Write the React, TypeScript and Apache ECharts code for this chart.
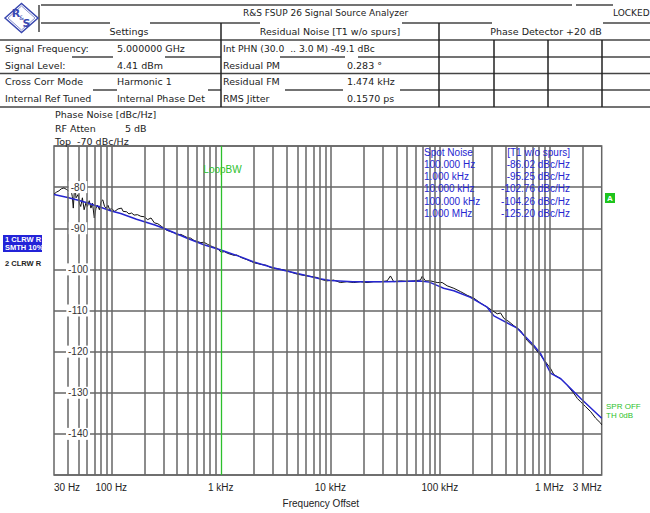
import React, { useEffect, useRef } from "react";
import * as echarts from "echarts";

// ---------- data ----------
const blueFreq = [30, 40, 50, 60, 70, 80, 100, 122, 170, 250, 300, 400, 500, 700, 1000, 1500, 2000, 3000, 4000, 6000, 8000, 10000, 16000, 33000, 50000, 66000, 80000, 100000, 108000, 134000, 190000, 270000, 311000, 508000, 721000, 830000, 1030000, 1270000, 1930000, 3000000];
const blueVal = [-81.8, -82.5, -83.2, -83.8, -84.4, -84.9, -85.8, -86.4, -87.8, -89.2, -90.0, -91.4, -92.5, -94.0, -95.3, -96.9, -98.2, -99.6, -100.4, -101.5, -102.3, -102.7, -103.0, -103.0, -102.9, -102.8, -103.1, -104.2, -104.6, -105.2, -106.8, -109.2, -111.3, -114.3, -118.5, -120.5, -125.3, -126.6, -131.4, -136.2];

const blackFreq = [30, 31.7, 33.3, 35.0, 37.0, 39.2, 41.1, 42.6, 44.1, 45.0, 46.4, 47.7, 49.8, 51.1, 52.6, 54.5, 56.5, 58.6, 60.6, 62.9, 65.2, 67.4, 70.0, 72.5, 75.1, 77.9, 80.8, 83.7, 86.8, 90.0, 93.2, 96.7, 100.2, 107.6, 115.4, 124, 128.4, 138.1, 144.8, 153.4, 161.5, 173.4, 186.2, 199.9, 214.7, 230.6, 247.6, 265.9, 285.6, 321.6, 337.5, 375, 400, 431.8, 496, 530, 571.3, 657.6, 700, 756, 840.4, 933.5, 1002, 1080, 1152, 1326, 1400, 1526, 1755, 2021, 2326, 2600, 2871, 3542, 4074, 5027, 6199, 7651, 8093, 9322, 10720, 12340, 14200, 16330, 18800, 21640, 24890, 28660, 32990, 35360, 37900, 43630, 50230, 57760, 66460, 68900, 73880, 82040, 94470, 104900, 116500, 134000, 154200, 177500, 204100, 235000, 270500, 300600, 333900, 357900, 383600, 426000, 473200, 545100, 627400, 721100, 830000, 922100, 1024000, 1098000, 1265000, 1457000, 1674000, 1799000, 1928000, 2142000, 2380000, 2644000, 2938000, 3000000];
const blackVal = [-81.7, -81.2, -80.9, -80.4, -80.2, -80.6, -81.0, -80.2, -82.3, -85.1, -79.4, -82.6, -81.8, -83.9, -84.7, -82.6, -85.5, -83.9, -84.7, -83.3, -85.1, -83.9, -87.5, -85.1, -84.4, -85.5, -83.5, -83.1, -84.7, -85.1, -84.4, -85.5, -85.2, -85.9, -85.3, -85.1, -85.9, -86.0, -86.5, -86.3, -86.8, -86.7, -87.1, -87.2, -87.9, -87.5, -88.7, -88.9, -89.5, -90.5, -90.7, -91.1, -91.6, -91.5, -92.3, -92.4, -93.0, -93.5, -93.4, -93.9, -94.5, -94.9, -95.8, -95.7, -96.1, -96.6, -96.5, -97.1, -97.7, -98.4, -98.8, -99.0, -99.6, -100.0, -100.4, -101.2, -101.6, -102.0, -102.4, -102.8, -102.6, -103.2, -103.0, -103.2, -103.0, -103.2, -103.0, -103.0, -102.8, -101.6, -103.0, -102.8, -102.9, -102.8, -102.6, -101.7, -102.8, -102.8, -103.2, -103.2, -104.0, -104.6, -105.4, -106.3, -107.0, -108.2, -109.2, -110.0, -110.8, -110.6, -111.9, -112.7, -113.7, -114.9, -117.3, -118.9, -120.9, -122.5, -124.1, -125.6, -126.6, -128.2, -130.2, -131.4, -132.2, -133.4, -134.6, -136.2, -137.4, -137.8];

const gridFreqs = [40, 50, 60, 70, 80, 90, 100, 200, 300, 400, 500, 600, 700, 800, 900, 1000, 2000, 3000, 4000, 5000, 6000, 7000, 8000, 9000, 10000, 20000, 30000, 40000, 50000, 60000, 70000, 80000, 90000, 100000, 200000, 300000, 400000, 500000, 600000, 700000, 800000, 900000, 1000000, 2000000];
const loopBwFreq = 1000;

const xTickValues = [30, 100, 1000, 10000, 100000, 1000000, 3000000];
const xTickLabels = ["30 Hz", "100 Hz", "1 kHz", "10 kHz", "100 kHz", "1 MHz", "3 MHz"];

const yMin = -150;
const yMax = -70;
const yStep = 10;

const settingsLabels = ["Signal Frequency:", "Signal Level:", "Cross Corr Mode", "Internal Ref Tuned"];
const settingsValues = ["5.000000 GHz", "4.41 dBm", "Harmonic 1", "Internal Phase Det"];
const residualLabels = ["Int PHN (30.0  .. 3.0 M) -49.1 dBc", "Residual PM", "Residual FM", "RMS Jitter"];
const residualValues = ["", "0.283 \u00b0", "1.474 kHz", "0.1570 ps"];

const spotFreqLabels = ["100.000 Hz", "1.000 kHz", "10.000 kHz", "100.000 kHz", "1.000 MHz"];
const spotValues = ["-86.02", "-95.25", "-102.76", "-104.26", "-125.20"];

// ---------- styles ----------
const HDR_FONT = "DejaVu Sans";
const PLOT_FONT = "Liberation Sans";
const LINE_C = "#444";
const GRID_C = "#666";
const BLUE = "#2626d0";
const GREEN = "#2cbf2c";

function txt(x: number, y: number, text: string, o: any = {}) {
  const align = o.align || "left";
  return {
    type: "text",
    x,
    y,
    z: 100,
    silent: true,
    style: {
      text,
      fill: o.fill || "#222",
      fontSize: o.size || 9.5,
      fontFamily: o.family || HDR_FONT,
      fontWeight: o.weight || "normal",
      align,
      textAlign: align,
      verticalAlign: "middle",
      textVerticalAlign: "middle",
    },
  };
}
function ln(x1: number, y1: number, x2: number, y2: number, c = LINE_C, w = 1.5) {
  return { type: "line", z: 100, silent: true, shape: { x1, y1, x2, y2 }, style: { stroke: c, lineWidth: w } };
}

export default function App() {
  const ref = useRef<HTMLDivElement>(null);
  useEffect(() => {
    if (!ref.current) return;
    const chart = echarts.init(ref.current, undefined, { renderer: "svg" });

    const blueData = blueFreq.map((f, i) => [f, blueVal[i]]);
    const blackData = blackFreq.map((f, i) => [f, blackVal[i]]);

    const g: any[] = [];
    // header lines
    g.push(ln(41, 5, 572, 5), ln(576, 5, 613, 5));
    g.push(ln(39, 5, 39, 32));
    [[41, 110], [150, 260], [402, 492], [603, 650]].forEach(([a, b]) => g.push(ln(a, 23, b, 23)));
    g.push(ln(0, 40, 650, 40), ln(0, 73.5, 650, 73.5), ln(0, 107, 650, 107));
    [[72, 113], [165, 221], [280, 345], [358, 650]].forEach(([a, b]) => g.push(ln(a, 57, b, 57)));
    [[93, 117], [208, 221], [285, 343], [400, 650]].forEach(([a, b]) => g.push(ln(a, 90, b, 90)));
    g.push(ln(221, 23, 221, 107, "#222"), ln(439, 23, 439, 107, "#222"));
    [494, 548, 602].forEach((x) => g.push(ln(x, 40, x, 107, "#222")));

    // logo
    g.push({
      type: "polygon", z: 100, silent: true,
      shape: { points: [[5, 18], [21.5, 3.5], [38, 18], [21.5, 32.5]] },
      style: { fill: "none", stroke: "#3a48b0", lineWidth: 1.5 },
    });
    g.push({
      type: "polygon", z: 100, silent: true,
      shape: { points: [[8, 18], [21.5, 6], [35, 18], [21.5, 30]] },
      style: { fill: "none", stroke: "#3a48b0", lineWidth: 0.6 },
    });
    g.push(txt(16, 13.5, "R", { fill: "#3a48b0", size: 11, family: "DejaVu Sans", weight: "bold", align: "center" }));
    g.push(txt(21.5, 17.5, "&", { fill: "#3a48b0", size: 6, align: "center" }));
    g.push(txt(26.5, 23, "S", { fill: "#3a48b0", size: 11, family: "DejaVu Sans", weight: "bold", align: "center" }));

    // header texts
    g.push(txt(243, 12.5, "R&S FSUP 26 Signal Source Analyzer", { size: 9 }));
    g.push(txt(613, 12.5, "LOCKED", { size: 9 }));
    g.push(txt(129, 31, "Settings", { align: "center" }));
    g.push(txt(330, 31, "Residual Noise [T1 w/o spurs]", { align: "center" }));
    g.push(txt(546, 31, "Phase Detector +20 dB", { align: "center" }));
    const rowY = [48.5, 65, 81.5, 98];
    settingsLabels.forEach((s, i) => g.push(txt(5, rowY[i], s)));
    settingsValues.forEach((s, i) => g.push(txt(117, rowY[i], s)));
    residualLabels.forEach((s, i) => g.push(txt(223, rowY[i], s, i === 0 ? { size: 9.2 } : {})));
    residualValues.forEach((s, i) => s && g.push(txt(347, rowY[i], s)));

    g.push(txt(55, 114.5, "Phase Noise [dBc/Hz]"));
    g.push(txt(55, 128, "RF Atten"));
    g.push(txt(125, 128, "5 dB"));
    g.push(txt(55, 141, "Top  -70 dBc/Hz"));

    // left trace legend
    g.push({ type: "rect", z: 100, silent: true, shape: { x: 3, y: 235, width: 39, height: 17 }, style: { fill: "#2323d8" } });
    g.push(txt(5, 239.7, "1 CLRW R", { fill: "#fff", size: 7.5, family: PLOT_FONT, weight: "bold" }));
    g.push(txt(5, 247.7, "SMTH 10%", { fill: "#fff", size: 7.5, family: PLOT_FONT, weight: "bold" }));
    g.push(txt(5, 263, "2 CLRW R", { fill: "#222", size: 7.5, family: PLOT_FONT, weight: "bold" }));

    // spot noise table
    const spY = [152, 164.3, 176.6, 188.9, 201.2, 213.5];
    g.push(txt(424, spY[0], "Spot Noise", { fill: BLUE, size: 10, family: PLOT_FONT }));
    g.push(txt(570, spY[0], "[T1 w/o spurs]", { fill: BLUE, size: 10, family: PLOT_FONT, align: "right" }));
    spotFreqLabels.forEach((s, i) => {
      g.push(txt(424, spY[i + 1], s, { fill: BLUE, size: 10, family: PLOT_FONT }));
      g.push(txt(570, spY[i + 1], spotValues[i] + " dBc/Hz", { fill: BLUE, size: 10, family: PLOT_FONT, align: "right" }));
    });

    // A marker
    g.push({ type: "rect", z: 100, silent: true, shape: { x: 605, y: 193, width: 10, height: 10 }, style: { fill: "#1ec41e" } });
    g.push(txt(610, 198.5, "A", { fill: "#fff", size: 8, family: PLOT_FONT, weight: "bold", align: "center" }));

    g.push(txt(222.5, 169, "LoopBW", { fill: GREEN, size: 10, family: PLOT_FONT, align: "center" }));
    g.push(txt(606, 406, "SPR OFF", { fill: GREEN, size: 8, family: PLOT_FONT }));
    g.push(txt(606, 415, "TH 0dB", { fill: GREEN, size: 8, family: PLOT_FONT }));

    const fmtX = (v: number) => {
      let best = 0;
      let bd = Infinity;
      xTickValues.forEach((t, i) => {
        const d = Math.abs(Math.log10(v) - Math.log10(t));
        if (d < bd) { bd = d; best = i; }
      });
      return bd < 0.01 ? xTickLabels[best] : "";
    };

    chart.setOption({
      animation: false,
      backgroundColor: "#fff",
      grid: { left: 54, right: 48.3, top: 146, bottom: 36, show: true, borderColor: GRID_C, borderWidth: 1.5, backgroundColor: "transparent" },
      xAxis: {
        type: "log",
        logBase: 10,
        min: 30,
        max: 3000000,
        axisLine: { show: false },
        axisTick: { show: false },
        splitLine: { show: false },
        minorTick: { show: false },
        axisLabel: {
          formatter: fmtX,
          margin: 7,
          fontSize: 10,
          fontFamily: PLOT_FONT,
          color: "#222",
          alignMinLabel: "left",
          alignMaxLabel: "right",
        },
        name: "Frequency Offset",
        nameLocation: "middle",
        nameGap: 23,
        nameTextStyle: { fontSize: 10, fontFamily: PLOT_FONT, color: "#222", padding: [0, 14, 0, 0] },
      },
      yAxis: [
        {
          type: "value",
          min: yMin,
          max: yMax,
          interval: yStep,
          axisLine: { show: false },
          axisTick: { show: false },
          axisLabel: { show: false },
          splitLine: { show: true, lineStyle: { color: GRID_C, width: 1.5 } },
        },
        {
          type: "value",
          position: "left",
          min: yMin,
          max: yMax,
          interval: yStep,
          z: 10,
          axisLine: { show: false },
          axisTick: { show: false },
          splitLine: { show: false },
          axisLabel: {
            inside: true,
            margin: 24,
            align: "center",
            showMinLabel: false,
            showMaxLabel: false,
            backgroundColor: "#fff",
            padding: [1, 2],
            fontSize: 10,
            fontFamily: PLOT_FONT,
            color: "#333",
          },
        },
      ],
      series: [
        {
          type: "line",
          z: 1,
          data: [],
          markLine: {
            silent: true,
            symbol: ["none", "none"],
            label: { show: false },
            lineStyle: { color: GRID_C, width: 1.5, type: "solid" },
            data: gridFreqs.filter((f) => f !== loopBwFreq).map((f) => ({ xAxis: f })),
          },
        },
        {
          type: "line",
          z: 2,
          data: [],
          markLine: {
            silent: true,
            symbol: ["none", "none"],
            label: { show: false },
            lineStyle: { color: GREEN, width: 1.3, type: "solid" },
            data: [{ xAxis: loopBwFreq }],
          },
        },
        {
          type: "line",
          z: 3,
          data: blackData,
          showSymbol: false,
          symbol: "none",
          lineStyle: { color: "#111", width: 1 },
        },
        {
          type: "line",
          z: 4,
          data: blueData,
          showSymbol: false,
          symbol: "none",
          lineStyle: { color: BLUE, width: 1.5 },
        },
      ],
      graphic: g,
    });
    return () => chart.dispose();
  }, []);
  return <div ref={ref} style={{ position: "fixed", left: 0, top: 0, width: 650, height: 513, background: "#fff" }} />;
}
